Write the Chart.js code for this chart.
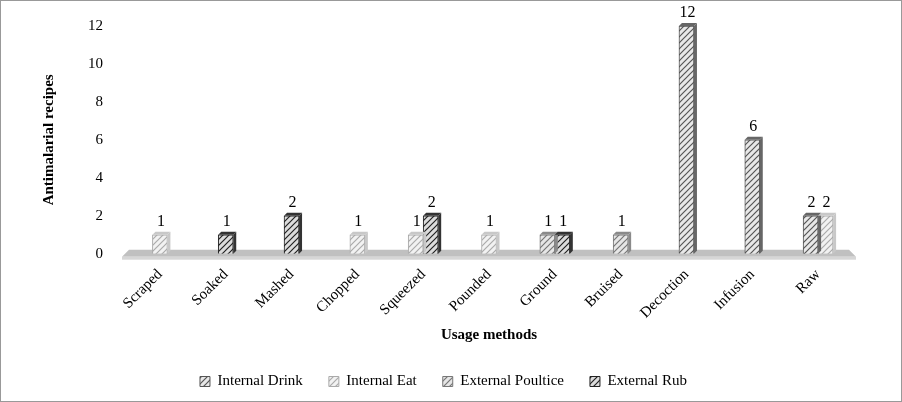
<!DOCTYPE html>
<html><head><meta charset="utf-8">
<script src="https://cdn.jsdelivr.net/npm/chart.js@4"></script>
<style>html,body{margin:0;background:#fff}#w{width:900px;height:400px;border:1px solid #999;position:relative}</style>
</head><body><div id="w"><canvas id="c"></canvas></div>
<script>
const categories=["Scraped","Soaked","Mashed","Chopped","Squeezed","Pounded","Ground","Bruised","Decoction","Infusion","Raw"];
const internalDrink=[null,null,null,null,null,null,null,null,12,6,2];
const internalEat=[1,null,null,1,1,1,null,null,null,null,2];
const externalPoultice=[null,null,null,null,null,null,1,1,null,null,null];
const externalRub=[null,1,2,null,2,null,1,null,null,null,null];
const yTicks=[0,2,4,6,8,10,12];

function hatch(bg,line){
  const c=document.createElement('canvas');c.width=6;c.height=6;const x=c.getContext('2d');
  x.fillStyle=bg;x.fillRect(0,0,6,6);x.strokeStyle=line;x.lineWidth=1.2;
  x.beginPath();x.moveTo(0,6);x.lineTo(6,0);x.moveTo(-3,3);x.lineTo(3,-3);x.moveTo(3,9);x.lineTo(9,3);x.stroke();
  return x.createPattern(c,'repeat');
}
const styles=[
  {bg:'#e8e8e8',line:'#555',border:'#555',side:'#666'},
  {bg:'#f2f2f2',line:'#aaa',border:'#aaa',side:'#c8c8c8'},
  {bg:'#e6e6e6',line:'#777',border:'#777',side:'#8a8a8a'},
  {bg:'#dcdcdc',line:'#222',border:'#222',side:'#333'}
];
const names=["Internal Drink","Internal Eat","External Poultice","External Rub"];
const series=[internalDrink,internalEat,externalPoultice,externalRub];

const threeD={id:'threeD',
  beforeDatasetsDraw(ch){const {ctx,chartArea:a,scales:{y}}=ch;const z=y.getPixelForValue(0);
    ctx.save();ctx.fillStyle='#c0c0c0';ctx.beginPath();
    ctx.moveTo(a.left-5,z+3);ctx.lineTo(a.right+5,z+3);ctx.lineTo(a.right-2,z-4);ctx.lineTo(a.left+2,z-4);ctx.closePath();ctx.fill();
    ctx.fillStyle='#d6d6d6';ctx.fillRect(a.left-5,z+3,a.right-a.left+10,3);ctx.restore();},
  afterDatasetsDraw(ch){const ctx=ch.ctx;ctx.save();
    ch.data.datasets.forEach((ds,i)=>{const m=ch.getDatasetMeta(i);const s=styles[i];
      m.data.forEach((b,j)=>{if(ds.data[j]==null)return;const w=b.width,l=b.x-w/2,r=b.x+w/2,t=b.y,bt=b.base;
        ctx.fillStyle=s.side;ctx.beginPath();ctx.moveTo(r,t);ctx.lineTo(r+3,t-3);ctx.lineTo(r+3,bt-3);ctx.lineTo(r,bt);ctx.closePath();ctx.fill();
        ctx.beginPath();ctx.moveTo(l,t);ctx.lineTo(l+3,t-3);ctx.lineTo(r+3,t-3);ctx.lineTo(r,t);ctx.closePath();ctx.fill();
        ctx.fillStyle='#000';ctx.font='16px "Liberation Serif"';ctx.textAlign='center';ctx.textBaseline='bottom';
        ctx.fillText(ds.data[j],b.x+1,t-5);});});
    ctx.restore();}
};

new Chart(document.getElementById('c'),{type:'bar',
  data:{labels:categories,datasets:series.map((d,i)=>({label:names[i],data:d,
    backgroundColor:hatch(styles[i].bg,styles[i].line),borderColor:styles[i].border,borderWidth:1,
    barThickness:15,skipNull:true}))},
  options:{responsive:true,maintainAspectRatio:false,animation:false,
    layout:{padding:{left:35,right:50,top:22,bottom:2}},
    plugins:{legend:{position:'bottom',labels:{font:{family:'Liberation Serif',size:15},color:'#000',boxWidth:10,boxHeight:10,padding:26}},tooltip:{enabled:false}},
    scales:{
      x:{grid:{display:false},border:{display:false},
        ticks:{color:'#000',font:{family:'Liberation Serif',size:15},maxRotation:45,minRotation:45,padding:4},
        title:{display:true,text:'Usage methods',color:'#000',font:{family:'Liberation Serif',size:15,weight:'bold'},padding:{top:0,bottom:4}}},
      y:{min:0,max:12,afterBuildTicks:ax=>{ax.ticks=yTicks.map(v=>({value:v}))},
        grid:{display:false},border:{display:false},
        ticks:{color:'#000',font:{family:'Liberation Serif',size:15},padding:16},
        title:{display:true,text:'Antimalarial recipes',color:'#000',font:{family:'Liberation Serif',size:15,weight:'bold'},padding:{bottom:14}}}
    }},
  plugins:[threeD]});
</script></body></html>
